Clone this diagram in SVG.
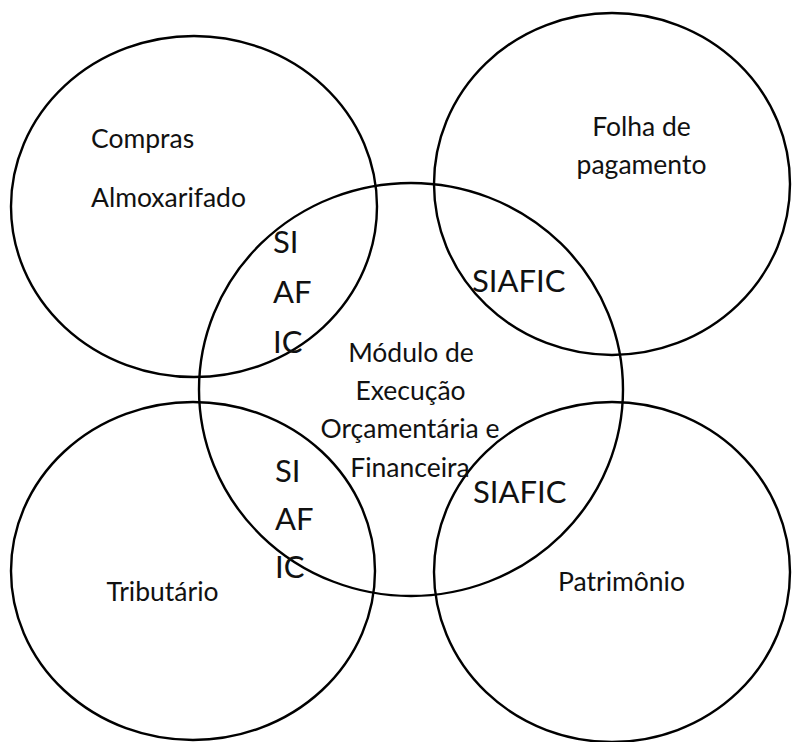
<svg xmlns="http://www.w3.org/2000/svg" width="792" height="742" viewBox="0 0 792 742">
<style>
.c{fill:none;stroke:#000;stroke-width:2.4}
.t{font-family:Lato,"Open Sans","Liberation Sans",sans-serif;font-size:26.5px;fill:#111}
.b{font-family:Lato,"Open Sans","Liberation Sans",sans-serif;font-size:31px;fill:#111}
.m{text-anchor:middle}
</style>
<rect width="792" height="742" fill="#fff"/>
<g id="compras">
<ellipse class="c" cx="194" cy="206.5" rx="183" ry="170.5"/>
<text class="t" x="91" y="148">Compras</text>
<text class="t" x="91" y="207">Almoxarifado</text>
</g>
<g id="folha">
<ellipse class="c" cx="612" cy="184" rx="178" ry="171"/>
<text class="t m" x="641.5" y="136">Folha de</text>
<text class="t m" x="641.5" y="174">pagamento</text>
</g>
<g id="tributario">
<ellipse class="c" cx="193" cy="571" rx="182" ry="169"/>
<text class="t m" x="162.5" y="601">Tributário</text>
</g>
<g id="patrimonio">
<ellipse class="c" cx="612" cy="572" rx="178" ry="170"/>
<text class="t m" x="621.5" y="591">Patrimônio</text>
</g>
<g id="modulo">
<ellipse class="c" cx="411" cy="389.5" rx="212" ry="206.5"/>
<text class="t m" x="411" y="362">Módulo de</text>
<text class="t m" x="410.5" y="400">Execução</text>
<text class="t m" x="410" y="438">Orçamentária e</text>
<text class="t m" x="410" y="477">Financeira</text>
</g>
<g id="siafic-tl">
<text class="b" x="273" y="253">SI</text>
<text class="b" x="273" y="303">AF</text>
<text class="b" x="273" y="353">IC</text>
</g>
<g id="siafic-tr">
<text class="b" x="472" y="292">SIAFIC</text>
</g>
<g id="siafic-bl">
<text class="b" x="275" y="482">SI</text>
<text class="b" x="275" y="530">AF</text>
<text class="b" x="275" y="578">IC</text>
</g>
<g id="siafic-br">
<text class="b" x="473" y="503">SIAFIC</text>
</g>
<g id="connectors"></g>
</svg>
